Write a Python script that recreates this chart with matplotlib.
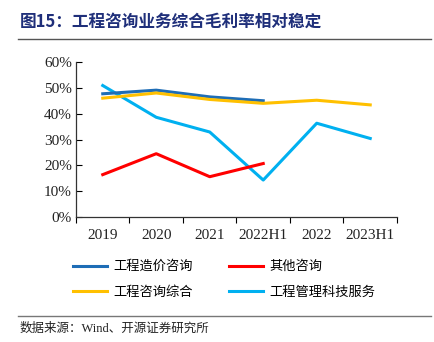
import matplotlib
matplotlib.use("Agg")
import matplotlib.pyplot as plt
import numpy as np
from matplotlib.ticker import FixedLocator, NullFormatter, PercentFormatter
from matplotlib.lines import Line2D

plt.rcParams['font.family'] = ['Noto Sans CJK SC', 'DejaVu Sans']
plt.rcParams['axes.unicode_minus'] = False

periods = ['2019', '2020', '2021', '2022H1', '2022', '2023H1']
cost_consult = [47.7, 49.1, 46.5, 45.0]          # 工程造价咨询
other_consult = [16.4, 24.5, 15.6, 20.7]         # 其他咨询
total_consult = [46.0, 48.0, 45.5, 44.0, 45.2, 43.4]  # 工程咨询综合
tech_service = [50.9, 38.6, 32.9, 14.3, 36.3, 30.4]   # 工程管理科技服务

c_blue = '#1E6DB6'
c_red = '#FF0000'
c_yellow = '#FFC000'
c_cyan = '#00B0F0'

fig = plt.figure(figsize=(4.35, 3.42), dpi=100)
ax = fig.add_axes([0.1747, 0.3655, 0.7379, 0.4532])

x = np.arange(len(periods))
lw = 2.2
ax.plot(x, tech_service, color=c_cyan, lw=lw)
ax.plot(x[:4], other_consult, color=c_red, lw=lw)
ax.plot(x[:4], cost_consult, color=c_blue, lw=lw)
ax.plot(x, total_consult, color=c_yellow, lw=lw)

ax.set_xlim(-0.5, len(periods) - 0.5)
ax.set_ylim(0, 60)
ax.set_yticks(np.arange(0, 61, 10))
ax.yaxis.set_major_formatter(PercentFormatter(decimals=0))
ax.set_xticks(x)
ax.set_xticklabels(periods)
ax.xaxis.set_minor_locator(FixedLocator(np.arange(-0.5, len(periods), 1.0)))
ax.xaxis.set_minor_formatter(NullFormatter())
ax.tick_params(axis='x', which='major', length=0, pad=9)
ax.tick_params(axis='x', which='minor', length=4, width=0.8, direction='out')
ax.tick_params(axis='y', length=4, width=0.8, direction='in', pad=3)
for lab in ax.get_xticklabels() + ax.get_yticklabels():
    lab.set_fontfamily(['Liberation Serif'])
    lab.set_fontsize(11)
    lab.set_color('#222222')
for side in ['top', 'right']:
    ax.spines[side].set_visible(False)
for side in ['left', 'bottom']:
    ax.spines[side].set_linewidth(0.9)
    ax.spines[side].set_color('#333333')

# title and rules
fig.text(0.045, 0.935, '图15：工程咨询业务综合毛利率相对稳定', fontsize=12,
         fontweight='bold', color='#1F2F7A', va='center', ha='left')
fig.add_artist(Line2D([0.041, 0.99], [0.887, 0.887], color='#555555', lw=1.0))
fig.add_artist(Line2D([0.041, 0.99], [0.077, 0.077], color='#777777', lw=1.0))
fig.text(0.045, 0.038, '数据来源：Wind、开源证券研究所', fontsize=9, va='center',
         ha='left', color='#222222', family=['Liberation Serif', 'Noto Sans CJK SC'])

# legend, filled column by column
handles = [Line2D([], [], color=c_blue, lw=2.2),
           Line2D([], [], color=c_yellow, lw=2.2),
           Line2D([], [], color=c_red, lw=2.2),
           Line2D([], [], color=c_cyan, lw=2.2)]
labels = ['工程造价咨询', '工程咨询综合', '其他咨询', '工程管理科技服务']
fig.legend(handles, labels, ncol=2, loc='center', bbox_to_anchor=(0.515, 0.183),
           frameon=False, fontsize=9.5, handlelength=2.6, handletextpad=0.5,
           columnspacing=2.7, labelspacing=0.95)

fig.savefig('out.png', dpi=100)
